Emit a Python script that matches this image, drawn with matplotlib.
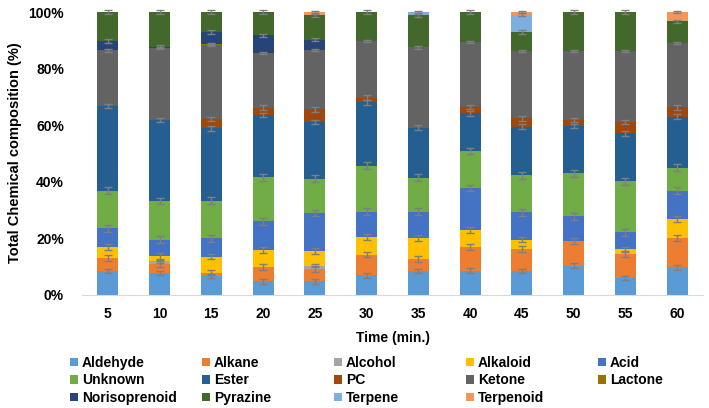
import numpy as np
import matplotlib
matplotlib.use('Agg')
import matplotlib.pyplot as plt
from matplotlib.patches import Patch

plt.rcParams['font.family'] = ['Liberation Sans', 'DejaVu Sans']
plt.rcParams['font.weight'] = 'bold'

# time points (min.)
times = ['5', '10', '15', '20', '25', '30', '35', '40', '45', '50', '55', '60']

# composition (%) of each class at each time point
aldehyde      = [8.4, 7.8, 6.7, 4.8, 4.8, 6.9, 8.4, 8.6, 8.4, 10.4, 6.0, 9.8]
alkane        = [4.6, 3.2, 1.2, 5.0, 4.4, 7.4, 4.4, 8.3, 7.9, 8.6, 8.5, 10.4]
alcohol       = [0, 0.9, 0, 0, 1.1, 0, 0, 0, 0, 0, 0, 0]
alkaloid      = [3.9, 1.9, 5.7, 6.2, 5.2, 6.3, 7.3, 6.1, 3.3, 0, 1.6, 6.6]
acid          = [6.6, 5.8, 6.4, 10.1, 13.5, 8.8, 9.3, 14.8, 9.6, 8.8, 6.0, 10.0]
unknown       = [13.3, 13.6, 13.3, 15.5, 12.1, 16.3, 12.0, 13.1, 13.1, 15.2, 18.1, 8.2]
ester         = [30.0, 28.6, 25.6, 22.0, 20.0, 22.4, 17.7, 13.3, 17.2, 16.8, 16.9, 18.0]
pc            = [0, 0, 3.3, 2.6, 4.5, 1.6, 0, 2.3, 2.9, 2.0, 4.1, 3.3]
ketone        = [19.6, 25.4, 26.2, 19.3, 21.0, 20.1, 28.4, 23.0, 23.7, 24.5, 24.9, 22.7]
lactone       = [0, 0, 0.4, 0, 0, 0, 0, 0, 0, 0, 0, 0]
norisoprenoid = [3.4, 0.6, 4.2, 6.2, 3.6, 0, 0, 0, 0, 0, 0, 0]
pyrazine      = [10.2, 12.2, 7.0, 8.3, 8.6, 10.2, 11.3, 10.5, 6.8, 13.7, 13.9, 7.7]
terpene       = [0, 0, 0, 0, 0, 0, 1.2, 0, 6.2, 0, 0, 0]
terpenoid     = [0, 0, 0, 0, 1.2, 0, 0, 0, 0.9, 0, 0, 3.3]

# approximate error bar half-lengths per class (%)
errors = [0.8, 1.0, 0.5, 1.0, 1.2, 1.2, 0.8, 0.8, 0.4, 0.3, 0.6, 0.6, 0.5, 0.4]

names = ['Aldehyde', 'Alkane', 'Alcohol', 'Alkaloid', 'Acid', 'Unknown', 'Ester',
         'PC', 'Ketone', 'Lactone', 'Norisoprenoid', 'Pyrazine', 'Terpene', 'Terpenoid']
colors = ['#5B9BD5', '#ED7D31', '#A5A5A5', '#FFC000', '#4472C4', '#70AD47', '#255E91',
          '#9E480E', '#636363', '#997300', '#264478', '#43682B', '#7CAFDD', '#F1975A']
series = [aldehyde, alkane, alcohol, alkaloid, acid, unknown, ester, pc, ketone,
          lactone, norisoprenoid, pyrazine, terpene, terpenoid]

fig = plt.figure(figsize=(7.09, 4.08), dpi=100)
ax = fig.add_axes([82/709, 1-295/408, 621/709, 283/408])

x = np.arange(len(times))
bottom = np.zeros(len(times))
for vals, col, err in zip(series, colors, errors):
    vals = np.array(vals, dtype=float)
    ax.bar(x, vals, 0.41, bottom=bottom, color=col, zorder=2)
    top = bottom + vals
    m = vals > 0
    ax.errorbar(x[m], top[m], yerr=err, fmt='none', ecolor='#7f7f7f',
                elinewidth=1, capsize=3, capthick=1, zorder=3, clip_on=False)
    bottom = top

ax.set_xlim(-0.5, len(times) - 0.5)
ax.set_ylim(0, 100)
ax.set_xticks(x)
ax.set_xticklabels(times)
ax.set_yticks(np.arange(0, 101, 20))
ax.set_yticklabels(['%d%%' % v for v in range(0, 101, 20)])
ax.tick_params(axis='both', length=0, labelsize=10)
ax.tick_params(axis='y', pad=13)
ax.tick_params(axis='x', pad=9)
for s in ['top', 'right', 'left']:
    ax.spines[s].set_visible(False)
ax.spines['bottom'].set_color('#d9d9d9')

ax.set_xlabel('Time (min.)', fontsize=10, fontweight='bold', labelpad=7)
fig.text(15/709, 1-153/408, 'Total Chemical composition (%)', rotation=90,
         ha='center', va='center', fontsize=10.5, fontweight='bold')

# legend: 5 evenly spaced columns, filled row by row
ncols = 5
col_x = [70, 202, 334, 466, 598]
for c in range(ncols):
    idx = list(range(c, len(names), ncols))
    hs = [Patch(facecolor=colors[i], edgecolor='none') for i in idx]
    fig.legend(hs, [names[i] for i in idx], loc='upper left',
               bbox_to_anchor=(col_x[c]/709, 1-356/408), frameon=False,
               fontsize=10, handlelength=0.55, handleheight=0.55,
               handletextpad=0.3, labelspacing=0.25, borderpad=0,
               borderaxespad=0)

fig.savefig('out.png', dpi=100)
